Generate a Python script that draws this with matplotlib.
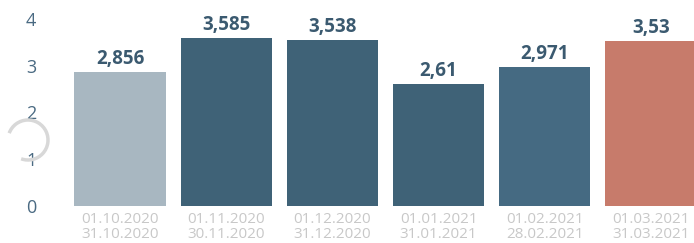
import matplotlib.pyplot as plt
from matplotlib.patches import Arc

periods = ["01.10.2020\n31.10.2020", "01.11.2020\n30.11.2020", "01.12.2020\n31.12.2020",
           "01.01.2021\n31.01.2021", "01.02.2021\n28.02.2021", "01.03.2021\n31.03.2021"]
values = [2.856, 3.585, 3.538, 2.61, 2.971, 3.53]
value_labels = ["2,856", "3,585", "3,538", "2,61", "2,971", "3,53"]
colors = ["#a8b7c1", "#3f6277", "#3f6277", "#3f6277", "#456a82", "#c77b6b"]

plt.rcParams['font.family'] = ['Open Sans', 'DejaVu Sans']

fig = plt.figure(figsize=(6.94, 2.43), dpi=100)
ax = fig.add_axes([67 / 694, 37 / 243, 627 / 694, 205 / 243])

x = range(len(values))
bars = ax.bar(x, values, width=0.86, color=colors)
for xi, v, lab in zip(x, values, value_labels):
    ax.text(xi, v + 0.07, lab, ha="center", va="bottom", fontsize=13.5,
            fontweight="bold", color="#3b5a70")

ax.set_xlim(-0.5, 5.405)
ax.set_ylim(0, 4.38)
ax.set_yticks([0, 1, 2, 3, 4])
ax.set_xticks(list(x))
ax.set_xticklabels(periods, fontsize=11, color="#c8c8c8", linespacing=1.0)
ax.tick_params(axis="y", length=0, pad=22, labelsize=13, labelcolor="#4a6a82")
ax.tick_params(axis="x", length=0, pad=4)
for s in ax.spines.values():
    s.set_visible(False)

# loading spinner leftover
sp = fig.add_axes([0, 0, 1, 1], facecolor="none")
sp.set_xlim(0, 694)
sp.set_ylim(243, 0)
sp.axis("off")
sp.add_patch(Arc((28, 140), 40, 40, theta1=200, theta2=470, color="#d8d8d8", lw=2.5))

fig.savefig("out.png", dpi=100)
